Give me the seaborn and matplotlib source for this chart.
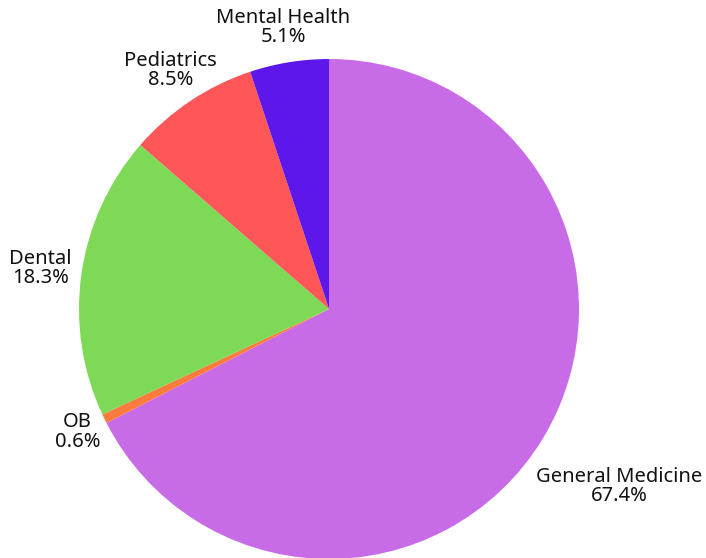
import numpy as np
import matplotlib
matplotlib.use("Agg")
import matplotlib.pyplot as plt
import seaborn as sns

# data
categories = ["General Medicine", "OB", "Dental", "Pediatrics", "Mental Health"]
shares = [67.4, 0.6, 18.3, 8.5, 5.1]
colors = ["#C86BE6", "#FF7A3D", "#7ED957", "#FF5757", "#5E17EB"]

# label distance from centre (in radii), wide label sits further out
label_dist = [1.36, 1.12, 1.165, 1.145, 1.14]

sns.set_theme(style="white")
plt.rcParams["font.family"] = ["Noto Sans", "DejaVu Sans"]

fig = plt.figure(figsize=(7.06, 5.58), dpi=100)
W, H = 706, 558
cx, cy, r = 329, 309, 250
ax = fig.add_axes([(cx - r) / W, (H - cy - r) / H, 2 * r / W, 2 * r / H])

wedges, _ = ax.pie(shares, colors=sns.color_palette(colors), startangle=90,
                   counterclock=False, radius=1,
                   wedgeprops=dict(linewidth=0))
ax.set_xlim(-1, 1)
ax.set_ylim(-1, 1)
ax.set_aspect("equal")
ax.axis("off")

for w, name, val, d in zip(wedges, categories, shares, label_dist):
    mid = np.deg2rad((w.theta1 + w.theta2) / 2)
    ax.text(d * np.cos(mid), d * np.sin(mid), f"{name}\n{val}%",
            ha="center", va="center", fontsize=14.5, color="#111111",
            linespacing=0.95, clip_on=False)

fig.savefig("out.png", dpi=100, facecolor="white")
